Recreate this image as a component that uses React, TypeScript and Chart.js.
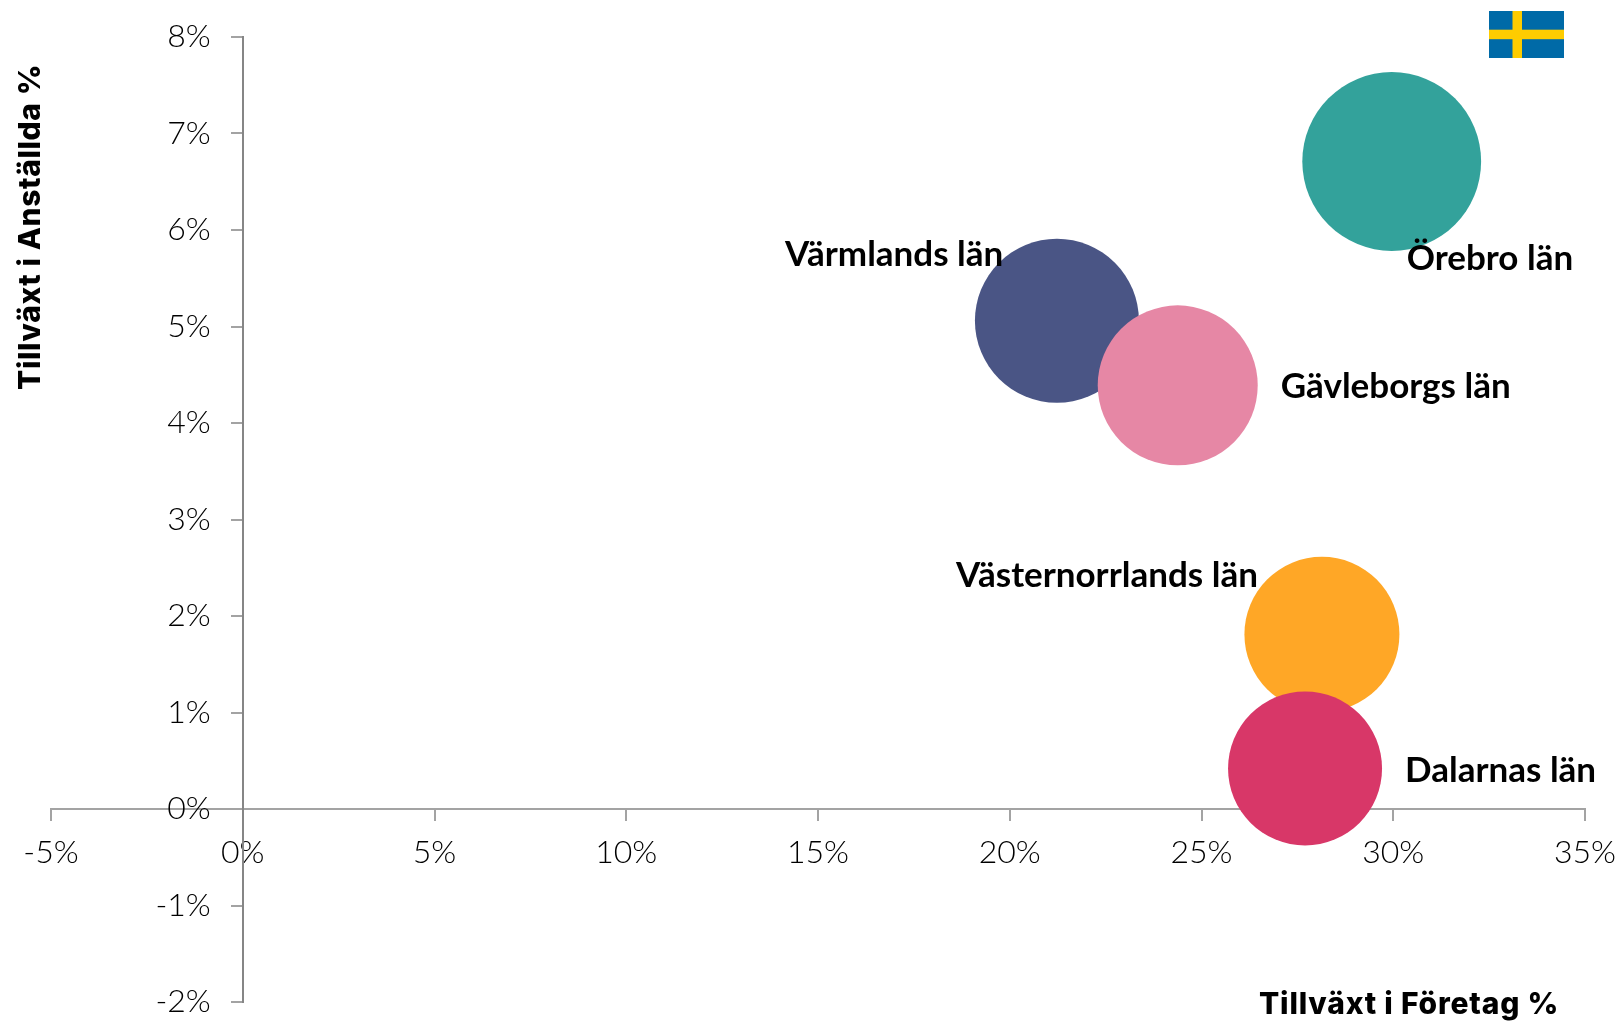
import React, { useEffect, useRef } from "react";
import { Chart, registerables } from "chart.js";

Chart.register(...registerables);

const regions = ["Örebro län", "Värmlands län", "Gävleborgs län", "Västernorrlands län", "Dalarnas län"];
const companyGrowth = [29.96, 21.23, 24.38, 28.14, 27.7];
const employeeGrowth = [6.71, 5.06, 4.39, 1.81, 0.42];
const bubbleRadius = [89.4, 82, 80, 77.5, 77];
const bubbleColors = ["#33A29B", "#4A5585", "#E687A5", "#FFA726", "#D83768"];
const xTitle = "Tillväxt i Företag %";
const yTitle = "Tillväxt i Anställda %";

// Label placement relative to each bubble centre (px)
const labelOffsets = [
  [15, 97],
  [-272, -66],
  [103, 1],
  [-366, -59],
  [100, 2],
];

const annotate = {
  id: "annotate",
  beforeDraw(chart: any) {
    // A crossing y axis puts its labels on the axis line: move them out past the ticks.
    chart.scales.y.getLabelItems().forEach((item: any) => {
      if (!item.moved) {
        item.options.translation[0] -= 32;
        item.moved = true;
      }
    });
  },
  afterDatasetsDraw(chart: any) {
    const { ctx, scales } = chart;
    ctx.save();
    ctx.fillStyle = "#000000";
    ctx.textAlign = "left";
    ctx.textBaseline = "middle";
    ctx.font = "700 35px Lato";
    regions.forEach((name, i) => {
      const px = scales.x.getPixelForValue(companyGrowth[i]);
      const py = scales.y.getPixelForValue(employeeGrowth[i]);
      ctx.fillText(name, px + labelOffsets[i][0], py + labelOffsets[i][1]);
    });
    ctx.font = "800 30px Inter";
    ctx.letterSpacing = "0.8px";
    ctx.fillText(xTitle, 1259, 1005);
    ctx.letterSpacing = "0.6px";
    ctx.translate(31, 390);
    ctx.rotate(-Math.PI / 2);
    ctx.fillText(yTitle, 0, 0);
    ctx.restore();
  },
};

const zeroPadding = (s: any) => {
  s.paddingLeft = s.paddingRight = s.paddingTop = s.paddingBottom = 0;
};

export default function App() {
  const ref = useRef<HTMLCanvasElement>(null);
  useEffect(() => {
    const chart = new Chart(ref.current as HTMLCanvasElement, {
      type: "bubble",
      plugins: [annotate],
      data: {
        datasets: [
          {
            label: "Län",
            data: regions.map((_, i) => ({ x: companyGrowth[i], y: employeeGrowth[i], r: bubbleRadius[i] })),
            backgroundColor: bubbleColors,
            borderWidth: 0,
            clip: false,
          } as any,
        ],
      },
      options: {
        animation: false,
        responsive: false,
        events: [],
        layout: { autoPadding: false, padding: { left: 51, top: 37, right: 35, bottom: 19 } },
        plugins: { legend: { display: false }, tooltip: { enabled: false }, title: { display: false } },
        scales: {
          x: {
            type: "linear",
            position: { y: 0 } as any,
            min: -5,
            max: 35,
            afterFit: (s: any) => { s.height = 0; zeroPadding(s); },
            border: { color: "#A3A3A3", width: 2 },
            grid: { drawOnChartArea: false, drawTicks: true, tickLength: 11, color: "#A3A3A3", lineWidth: 2 },
            ticks: {
              stepSize: 5,
              autoSkip: false,
              maxRotation: 0,
              padding: 13,
              color: "#000000",
              font: { family: "Lato", size: 32, weight: 300 },
              callback: (v: any) => `${v}%`,
            },
          },
          y: {
            type: "linear",
            position: { x: 0 } as any,
            min: -2,
            max: 8,
            afterFit: (s: any) => { s.width = 0; zeroPadding(s); },
            border: { color: "#868686", width: 2 },
            grid: { drawOnChartArea: false, drawTicks: true, tickLength: 11, color: "#A3A3A3", lineWidth: 2 },
            ticks: {
              stepSize: 1,
              autoSkip: false,
              padding: 22,
              color: "#000000",
              font: { family: "Lato", size: 32, weight: 300 },
              callback: (v: any) => `${v}%`,
            },
          },
        },
      },
    } as any);
    return () => chart.destroy();
  }, []);

  return (
    <div style={{ position: "absolute", left: 0, top: 0, width: 1620, height: 1021, background: "#fff" }}>
      <canvas ref={ref} width={1620} height={1021} style={{ display: "block" }} />
      <svg style={{ position: "absolute", left: 1489, top: 11 }} width={75} height={47}>
        <rect width={75} height={47} fill="#006AA7" />
        <rect x={23.5} width={9.5} height={47} fill="#FECC00" />
        <rect y={18.7} width={75} height={9.5} fill="#FECC00" />
      </svg>
    </div>
  );
}
